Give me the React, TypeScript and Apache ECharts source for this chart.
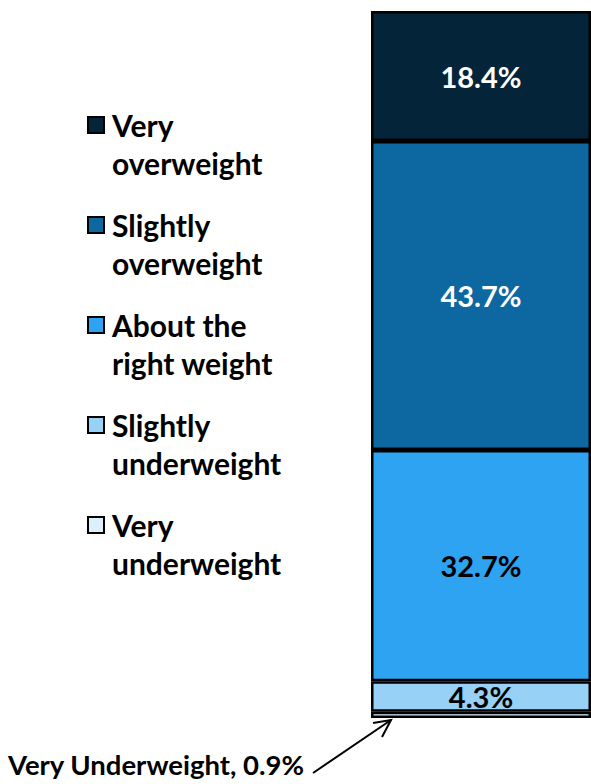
import React, { useEffect, useRef } from "react";
import * as echarts from "echarts";

const categories = ["All"];
const seriesNames = [
  "Very underweight",
  "Slightly underweight",
  "About the right weight",
  "Slightly overweight",
  "Very overweight",
];
const legendLines: Record<string, string> = {
  "Very overweight": "Very\noverweight",
  "Slightly overweight": "Slightly\noverweight",
  "About the right weight": "About the\nright weight",
  "Slightly underweight": "Slightly\nunderweight",
  "Very underweight": "Very\nunderweight",
};
const values = [0.9, 4.3, 32.7, 43.7, 18.4];
const colors = ["#DDEFFB", "#97D1F5", "#2EA3F2", "#0D67A1", "#04243A"];
const labelColors = ["#000", "#000", "#000", "#fff", "#fff"];
const showLabel = [false, true, true, true, true];
const legendOrder = [
  "Very overweight",
  "Slightly overweight",
  "About the right weight",
  "Slightly underweight",
  "Very underweight",
];
const annotation = "Very Underweight, 0.9%";

const FONT = "Lato, 'Open Sans', sans-serif";

export default function App() {
  const ref = useRef<HTMLDivElement>(null);
  useEffect(() => {
    if (!ref.current) return;
    document.body.style.margin = "0";
    document.body.style.overflow = "hidden";
    const chart = echarts.init(ref.current, undefined, { renderer: "svg" });
    chart.setOption({
      animation: false,
      grid: { left: 371, right: 0, top: 11, bottom: 66 },
      xAxis: { type: "category", data: categories, show: false },
      yAxis: { type: "value", min: 0, max: 100, show: false },
      legend: {
        data: legendOrder,
        orient: "vertical",
        left: 87,
        top: 68,
        padding: 0,
        icon: "rect",
        itemWidth: 16,
        itemHeight: 16,
        itemGap: -14,
        formatter: (n: string) => " \n" + legendLines[n],
        textStyle: {
          fontFamily: FONT,
          fontWeight: "bold",
          fontSize: 30,
          lineHeight: 38,
          color: "#000",
          padding: [0, 0, 0, 3],
        },
      },
      series: seriesNames.map((name, i) => ({
        name,
        type: "bar",
        stack: "total",
        barWidth: "100%",
        data: [values[i]],
        itemStyle: { color: colors[i], borderColor: "#000", borderWidth: 2.5 },
        label: {
          show: showLabel[i],
          position: "inside",
          formatter: (p: any) => p.value.toFixed(1) + "%",
          color: labelColors[i],
          fontFamily: FONT,
          fontWeight: "bold",
          fontSize: 29,
        },
      })),
      graphic: [
        {
          type: "text",
          left: 8,
          top: 750,
          style: {
            text: annotation,
            fontFamily: FONT,
            fontWeight: "bold",
            fontSize: 27.5,
            fill: "#000",
          },
        },
        {
          type: "line",
          shape: { x1: 313, y1: 773, x2: 391, y2: 720 },
          style: { stroke: "#000", lineWidth: 2 },
        },
        {
          type: "polyline",
          shape: { points: [[373, 723], [391, 720], [382, 737]] },
          style: { stroke: "#000", lineWidth: 2, fill: "none" },
        },
      ],
    });
    return () => chart.dispose();
  }, []);
  return (
    <div
      ref={ref}
      style={{ position: "absolute", left: 0, top: 0, width: 591, height: 784 }}
    />
  );
}
